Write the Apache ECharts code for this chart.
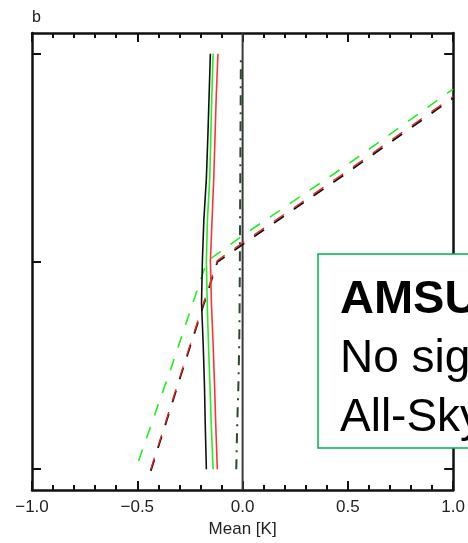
<!DOCTYPE html>
<html>
<head>
<meta charset="utf-8">
<script src="https://cdn.jsdelivr.net/npm/echarts@6/dist/echarts.min.js"></script>
<style>
html,body{margin:0;padding:0;background:#fff;}
#chart{width:468px;height:543px;}
</style>
</head>
<body>
<div id="chart"></div>
<script>
// ---- data ----
var xTicks = [-1.0, -0.5, 0.0, 0.5, 1.0];
var yTicks = [1, 11, 21];
var levels = [1, 3, 5, 7, 9, 11, 13, 15, 17, 19, 21];
var blackMean = [-0.172, -0.177, -0.181, -0.187, -0.195, -0.191, -0.184, -0.172, -0.165, -0.159, -0.153];
var greenMean = [-0.140, -0.148, -0.155, -0.162, -0.168, -0.172, -0.167, -0.156, -0.151, -0.146, -0.140];
var redMean   = [-0.120, -0.127, -0.133, -0.140, -0.148, -0.153, -0.145, -0.137, -0.131, -0.125, -0.117];
var dashDotX  = [-0.030, -0.026, -0.020, -0.016, -0.014, -0.013, -0.012, -0.011, -0.010, -0.009, -0.008];
var greenDashX = [-0.494, -0.337, -0.170, 0.000, 0.489, 1.000];
var greenDashY = [1.4, 5.95, 11.0, 12.25, 15.6, 19.3];
var redDashX = [-0.436, -0.282, -0.120, 0.000, 0.489, 1.000];
var redDashY = [1.0, 5.95, 11.05, 11.9, 15.3, 18.95];
var zeroX = [0, 0];
var zeroY = [0, 22];
var boxLines = ['AMSU', 'No sig', 'All-Sky'];
var panelLabel = 'b';
var xName = 'Mean [K]';

function pairs(xs, ys) { return xs.map(function (x, i) { return [x, ys[i]]; }); }

var FONT = 'Liberation Sans, Arial, Helvetica, sans-serif';
var chart = echarts.init(document.getElementById('chart'), null, {renderer: 'canvas'});

function xAxisDef(pos, showLabel) {
  return {
    type: 'value', position: pos, min: -1, max: 1, interval: 0.5,
    name: showLabel ? xName : '', nameLocation: 'middle', nameGap: 31,
    nameTextStyle: {fontFamily: FONT, fontSize: 17, color: '#222'},
    axisLine: {show: true, onZero: false, lineStyle: {color: '#111', width: 2.5}},
    axisTick: {show: true, inside: true, length: 9, lineStyle: {color: '#111', width: 2}},
    minorTick: {show: true, splitNumber: 5, length: 5, lineStyle: {color: '#111', width: 2}},
    axisLabel: {show: showLabel, margin: 9, fontFamily: FONT, fontSize: 17, color: '#222',
      formatter: function (v) { return (v < 0 ? '\u2212' : '') + Math.abs(v).toFixed(1); }},
    splitLine: {show: false}
  };
}
function yAxisDef(pos) {
  return {
    type: 'value', position: pos, min: 0, max: 22,
    axisLine: {show: true, onZero: false, lineStyle: {color: '#111', width: 2.5}},
    axisTick: {show: true, inside: true, length: 9, customValues: yTicks, lineStyle: {color: '#111', width: 2}},
    axisLabel: {show: false, customValues: yTicks},
    splitLine: {show: false}
  };
}
function lineSeries(data, color, width, type, z) {
  return {
    type: 'line', data: data, showSymbol: false, symbol: 'none', z: z,
    xAxisIndex: 0, yAxisIndex: 0,
    lineStyle: {color: color, width: width, type: type, cap: 'butt'},
    animation: false, silent: true
  };
}

var option = {
  animation: false,
  grid: {left: 32, right: 12, top: 33, bottom: 53, containLabel: false},
  xAxis: [xAxisDef('bottom', true), xAxisDef('top', false)],
  yAxis: [yAxisDef('left'), yAxisDef('right')],
  series: [
    lineSeries(pairs(zeroX, zeroY), '#3a3a3a', 2, 'solid', 2),
    lineSeries(pairs(dashDotX, levels), '#2b4a2b', 2, [10, 7, 2, 7], 3),
    lineSeries(pairs(greenDashX, greenDashY), '#22ee22', 1.6, [12, 12], 4),
    lineSeries(pairs(redDashX, redDashY.map(function (v) { return v - 0.08; })), '#111111', 1.8, [12, 12], 5),
    lineSeries(pairs(redDashX, redDashY), '#ee2222', 1.3, [12, 12], 6),
    lineSeries(pairs(blackMean, levels), '#111111', 1.6, 'solid', 7),
    lineSeries(pairs(greenMean, levels), '#22ee22', 1.6, 'solid', 8),
    lineSeries(pairs(redMean, levels), '#ff3333', 1.6, 'solid', 9)
  ],
  graphic: [
    {type: 'text', left: 32, top: 10, z: 100,
      style: {text: panelLabel, fontFamily: FONT, fontSize: 16, fill: '#222'}},
    {type: 'rect', shape: {x: 318, y: 254, width: 200, height: 194}, z: 100,
      style: {fill: '#fff', stroke: '#00b050', lineWidth: 1.5}},
    {type: 'text', x: 340, y: 277, z: 101,
      style: {text: boxLines[0], fontFamily: FONT, fontSize: 47, fontWeight: 'bold', fill: '#000'}},
    {type: 'text', x: 340, y: 336, z: 101,
      style: {text: boxLines[1], fontFamily: FONT, fontSize: 46, fill: '#000'}},
    {type: 'text', x: 340, y: 395, z: 101,
      style: {text: boxLines[2], fontFamily: FONT, fontSize: 46, fill: '#000'}}
  ]
};
chart.setOption(option);
</script>
</body>
</html>
